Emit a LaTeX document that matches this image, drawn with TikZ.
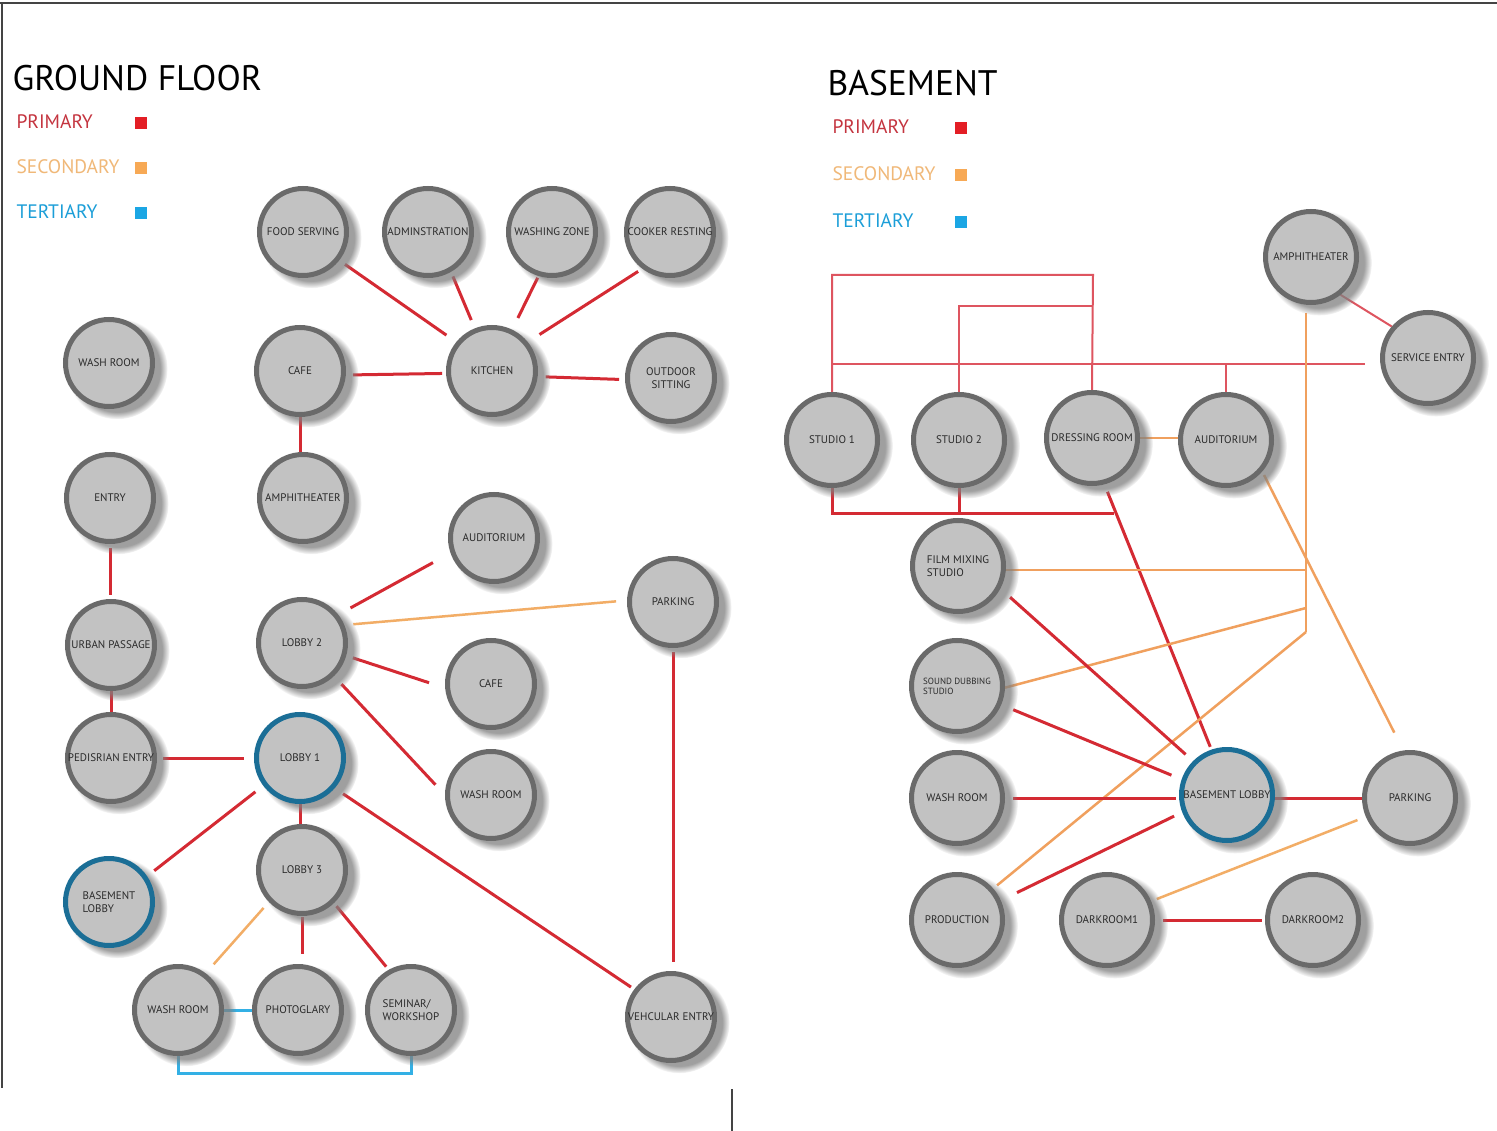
\documentclass[tikz,border=0pt]{standalone}
\usepackage{fontspec}
\setmainfont{PT Sans}
\usetikzlibrary{shadows,fadings,calc}
\pgfdeclarelayer{back}
\pgfdeclarelayer{bg}
\pgfsetlayers{back,bg,main}
\definecolor{roomfill}{HTML}{C2C2C2}
\definecolor{roomborder}{HTML}{6A6A6A}
\definecolor{lobbyblue}{HTML}{1B6E96}
\definecolor{labeltext}{HTML}{2A2A2A}
\definecolor{linered}{HTML}{D42A33}
\definecolor{linepink}{HTML}{DE5560}
\definecolor{lineorange}{HTML}{F2AD66}
\definecolor{lineorangeB}{HTML}{F0A05E}
\definecolor{lineblue}{HTML}{33B0E5}
\definecolor{legred}{HTML}{C4343F}
\definecolor{legorange}{HTML}{F0B878}
\definecolor{legblue}{HTML}{1B9ED8}
\definecolor{sqred}{HTML}{E31E25}
\definecolor{sqorange}{HTML}{F7A955}
\definecolor{sqblue}{HTML}{1BA6E4}
\definecolor{framegray}{HTML}{444444}
\newcommand\lblfont{\fontsize{11}{13}\selectfont}
\newcommand\zb[1]{\makebox[0pt][c]{#1}}
\newcommand\lnk[7]{\draw[#1, shorten <=#4pt, shorten >=#7pt] (#2.#3) -- (#5.#6);}
\begin{document}
\begin{tikzpicture}[x=1pt,y=-1pt,
  room/.style={circle, minimum size=87pt, inner sep=0pt, fill=roomfill, draw=roomborder,
    line width=5pt, text=labeltext, font=\lblfont,
    circular drop shadow={shadow xshift=7pt, shadow yshift=-5pt, shadow scale=1.16, opacity=0.75}},
  broom/.style={room, minimum size=91pt},
  lobbyring/.style={draw=lobbyblue},
  pri/.style={draw=linered, line width=3pt},
  pri2/.style={draw=linepink, line width=2pt},
  sec/.style={draw=lineorange, line width=2.5pt},
  sec2/.style={draw=lineorangeB, line width=2.5pt},
  ter/.style={draw=lineblue, line width=3pt},
  title/.style={anchor=base west, font=\fontsize{35.5}{40}\selectfont, text=black},
  legend/.style={anchor=base west, font=\fontsize{19.5}{22}\selectfont},
  sq/.style={rectangle, minimum size=11.5pt, inner sep=0pt}
]
\useasboundingbox (0,0) rectangle (1497,1131);
\begin{pgfonlayer}{back}
\fill[white] (0,0) rectangle (1497,1131);
\end{pgfonlayer}
% frame
\draw[framegray, line width=2pt] (0,3) -- (1497,3);
\draw[framegray, line width=2pt] (2,3) -- (2,1088);
\draw[framegray, line width=2pt] (732,1089) -- (732,1131);

% ---------- GROUND FLOOR ----------
\node[title] (gtitle) at (9,91) {GROUND FLOOR};
\node[legend, text=legred] (gp) at (13,129) {PRIMARY};
\node[legend, text=legorange] (gs) at (13,174) {SECONDARY};
\node[legend, text=legblue] (gt) at (13,219) {TERTIARY};
\node[sq, fill=sqred] (gps) at (141,123) {};
\node[sq, fill=sqorange] (gss) at (141,168) {};
\node[sq, fill=sqblue] (gts) at (141,213) {};

\node[room] (food) at (303,232) {\zb{FOOD SERVING}};
\node[room] (admin) at (428,232) {\zb{ADMINSTRATION}};
\node[room] (washz) at (552,232) {\zb{WASHING ZONE}};
\node[room] (cooker) at (670,232) {\zb{COOKER RESTING}};
\node[room] (washA) at (109,363) {\zb{WASH ROOM}};
\node[room] (cafeA) at (300,371) {\zb{CAFE}};
\node[room] (kitchen) at (492,371) {\zb{KITCHEN}};
\node[room, align=center] (outdoor) at (671,378) {OUTDOOR\\SITTING};
\node[room] (entry) at (110,498) {\zb{ENTRY}};
\node[room] (amphA) at (303,498) {\zb{AMPHITHEATER}};
\node[room] (audA) at (494,538) {\zb{AUDITORIUM}};
\node[room] (parkA) at (673,602) {\zb{PARKING}};
\node[room] (urban) at (111,645) {\zb{URBAN PASSAGE}};
\node[room] (lobbyB) at (302,643) {\zb{LOBBY 2}};
\node[room] (cafeB) at (491,684) {\zb{CAFE}};
\node[room] (ped) at (111,758) {\zb{PEDISRIAN ENTRY}};
\node[room, lobbyring] (lobbyA) at (300,758) {\zb{LOBBY 1}};
\node[room] (washB) at (491,795) {\zb{WASH ROOM}};
\node[room, lobbyring, align=left] (basA) at (109,902) {BASEMENT\\LOBBY};
\node[room] (lobbyC) at (302,870) {\zb{LOBBY 3}};
\node[room] (washC) at (178,1010) {\zb{WASH ROOM}};
\node[room] (photo) at (298,1010) {\zb{PHOTOGLARY}};
\node[room, align=left] (sem) at (411,1010) {SEMINAR/\\WORKSHOP};
\node[room] (veh) at (671,1017) {\zb{VEHCULAR ENTRY}};

\begin{pgfonlayer}{bg}
\lnk{pri}{food}{-38}{7}{kitchen}{141}{12}
\lnk{pri}{admin}{-60}{5}{kitchen}{112}{9}
\lnk{pri}{washz}{-107}{2}{kitchen}{64}{13}
\lnk{pri}{cooker}{-127}{5}{kitchen}{39}{14}
\lnk{pri}{cafeA}{-5}{7}{kitchen}{-177}{4}
\lnk{pri}{kitchen}{-7}{8}{outdoor}{-178}{6}
\draw[pri] (cafeA.south) -- (cafeA.south |- amphA.north);
\draw[pri, shorten <=4pt, shorten >=4pt] (entry.south) -- (entry.south |- urban.north);
\draw[pri] (urban.south) -- (urban.south |- ped.north);
\lnk{pri}{ped}{0}{6}{lobbyA}{180}{10}
\lnk{pri}{lobbyA}{-143}{10}{basA}{34}{9}
\draw[pri] (lobbyA.south) -- (lobbyA.south |- lobbyC.north);
\lnk{pri}{lobbyA}{-41}{10}{veh}{143}{4}
\lnk{pri}{lobbyB}{38}{14}{audA}{-161}{20}
\lnk{sec}{lobbyB}{23}{9}{parkA}{178}{11}
\lnk{pri}{lobbyB}{-16}{7}{cafeB}{-175}{17}
\lnk{pri}{lobbyB}{-46}{11}{washB}{180}{14}
\draw[pri, shorten <=4pt, shorten >=9pt] (parkA.south) -- (parkA.south |- veh.north);
\lnk{sec}{lobbyC}{-136}{8}{washC}{53}{12}
\draw[pri, shorten <=1pt, shorten >=10pt] (lobbyC.south) -- (lobbyC.south |- photo.north);
\lnk{pri}{lobbyC}{-46}{4}{sem}{119}{4}
\draw[ter] (washC.east) -- (washC.east -| photo.west);
\draw[ter] (washC.south) -- ++(0,17) -| (sem.south);
\end{pgfonlayer}

% ---------- BASEMENT ----------
\node[title] (btitle) at (824,96) {BASEMENT};
\node[legend, text=legred] (bp) at (829,134) {PRIMARY};
\node[legend, text=legorange] (bs) at (829,181) {SECONDARY};
\node[legend, text=legblue] (bt) at (829,228) {TERTIARY};
\node[sq, fill=sqred] (bps) at (961,128) {};
\node[sq, fill=sqorange] (bss) at (961,175) {};
\node[sq, fill=sqblue] (bts) at (961,222) {};

\node[broom] (amphB) at (1311,257) {\zb{AMPHITHEATER}};
\node[broom] (serv) at (1428,358) {\zb{SERVICE ENTRY}};
\node[broom] (s1) at (832,440) {\zb{STUDIO 1}};
\node[broom] (s2) at (959,440) {\zb{STUDIO 2}};
\node[broom] (dress) at (1092,438) {\zb{DRESSING ROOM}};
\node[broom] (aud) at (1226,440) {\zb{AUDITORIUM}};
\node[broom, align=left] (film) at (958,566) {FILM MIXING\\STUDIO};
\node[broom, align=left, font=\fontsize{9}{10}\selectfont] (sound) at (957,686) {SOUND DUBBING\\STUDIO};
\node[broom] (washD) at (957,798) {\zb{WASH ROOM}};
\node[broom, lobbyring] (blob) at (1227,795) {\zb{BASEMENT LOBBY}};
\node[broom] (parkB) at (1410,798) {\zb{PARKING}};
\node[broom] (prod) at (957,920) {\zb{PRODUCTION}};
\node[broom] (dark1) at (1107,920) {\zb{DARKROOM1}};
\node[broom] (dark2) at (1313,920) {\zb{DARKROOM2}};

\coordinate (tA) at (1093,275);
\coordinate (tB) at (1093,306);
\coordinate (busL) at (832,364);
\coordinate (busB) at (1114,513);
\coordinate (vbot) at (1306,632);
\coordinate (vmid) at (1306,608);

\begin{pgfonlayer}{bg}
\draw[pri2] (s1.north) |- (tA) -- (dress.north);
\draw[pri2] (s2.north) |- (tB);
\draw[pri2, shorten >=15pt] (busL) -- (busL -| serv.west);
\draw[pri2] (aud.north) -- (aud.north |- busL);
\lnk{pri2}{amphB}{-52}{0}{serv}{139}{0}
\draw[sec2] (dress.east) -- (dress.east -| aud.west);
\draw[pri] (s1.south) |- (busB);
\draw[pri] (s2.south) -- (s2.south |- busB);
\lnk{pri}{dress}{-75}{8}{blob}{109}{3}
\draw[sec2, shorten <=8pt] (amphB.south -| vbot) -- (vbot);
\draw[sec2] (film.-5) -- (film.-5 -| vbot);
\draw[sec2] (sound.-2) -- (vmid);
\draw[sec2, shorten <=5pt] (prod.41) -- (vbot);
\lnk{sec2}{aud}{-41}{4}{parkB}{98}{20}
\lnk{pri}{film}{-28}{13}{blob}{135}{10}
\lnk{pri}{sound}{-23}{13}{blob}{161}{11}
\draw[pri, shorten <=8pt, shorten >=3pt] (washD.east) -- (washD.east -| blob.west);
\draw[pri] (parkB.west) -- (parkB.west -| blob.east);
\lnk{pri}{prod}{24}{18}{blob}{-159}{9}
\lnk{sec}{dark1}{23}{6}{parkB}{-157}{9}
\lnk{pri}{dark1}{0}{8}{dark2}{180}{3}
\end{pgfonlayer}
\end{tikzpicture}
\end{document}
